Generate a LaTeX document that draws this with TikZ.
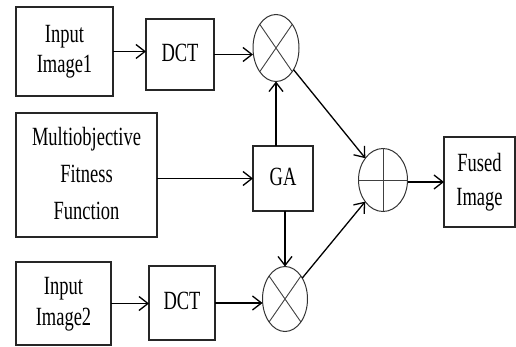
\documentclass[tikz,border=0pt]{standalone}
\usepackage{graphicx}
\usepackage{fontspec}
\setmainfont{Liberation Serif}
\usetikzlibrary{shapes.geometric,arrows.meta}
\newcommand{\vtxt}[2][23]{\scalebox{1}[1.42]{\fontsize{18.5}{#1}\selectfont\begin{tabular}{@{}c@{}}#2\end{tabular}}}
\begin{document}
\begin{tikzpicture}[x=1pt,y=-1pt,
  blk/.style={draw=black!85,line width=1.2pt,rectangle,inner sep=0pt,outer sep=0pt},
  opnode/.style={draw=black!80,line width=1pt,ellipse,inner sep=0pt,outer sep=0pt},
  arr/.style={line width=1.3pt,-{Straight Barb[length=9pt,width=14pt,line width=1.3pt]}},
  thin/.style={line width=0.9pt,draw=black!75}]
\useasboundingbox (0,0) rectangle (516,347);
% blocks
\node[blk,minimum width=97pt,minimum height=89pt] (in1) at (64.5,51.5) {\vtxt[21]{Input\\Image1}};
\node[blk,minimum width=68pt,minimum height=71pt] (dct1) at (180,54.5) {\vtxt{DCT}};
\node[blk,minimum width=141pt,minimum height=124pt] (mf) at (86.5,175) {\vtxt[26]{Multiobjective\\Fitness\\Function}};
\node[blk,minimum width=60pt,minimum height=65pt] (ga) at (283,178.5) {\vtxt{GA}};
\node[blk,minimum width=95pt,minimum height=83pt] (in2) at (63.5,303.5) {\vtxt[22]{Input\\Image2}};
\node[blk,minimum width=66pt,minimum height=74pt] (dct2) at (182,303) {\vtxt{DCT}};
\node[blk,minimum width=71pt,minimum height=90pt] (fused) at (479.5,182) {\vtxt[24]{Fused\\Image}};
% operators
\node[opnode,minimum width=46pt,minimum height=67pt] (m1) at (276,48) {};
\node[opnode,minimum width=45pt,minimum height=65pt] (m2) at (285,299) {};
\node[opnode,minimum width=49pt,minimum height=63pt] (add) at (383,180) {};
\draw[thin] (m1.north west) -- (m1.south east) (m1.north east) -- (m1.south west);
\draw[thin] (m2.north west) -- (m2.south east) (m2.north east) -- (m2.south west);
\draw[thin] (add.north) -- (add.south) (add.west) -- (add.east);
% connectors
\draw[arr] (in1.east) -- (in1.east -| dct1.west);
\draw[arr] (dct1.east) -- (dct1.east -| m1.west);
\draw[arr] (mf.east |- ga.west) -- (ga.west);
\draw[arr] (m1 |- ga.north) -- (m1);
\draw[arr] (m2 |- ga.south) -- (m2);
\draw[arr] (in2.east) -- (in2.east -| dct2.west);
\draw[arr] (dct2.east) -- (dct2.east -| m2.west);
\draw[arr] (m1) -- (add);
\draw[arr] (m2) -- (add);
\draw[arr] (add.east |- fused.west) -- (fused.west);
\end{tikzpicture}
\end{document}
